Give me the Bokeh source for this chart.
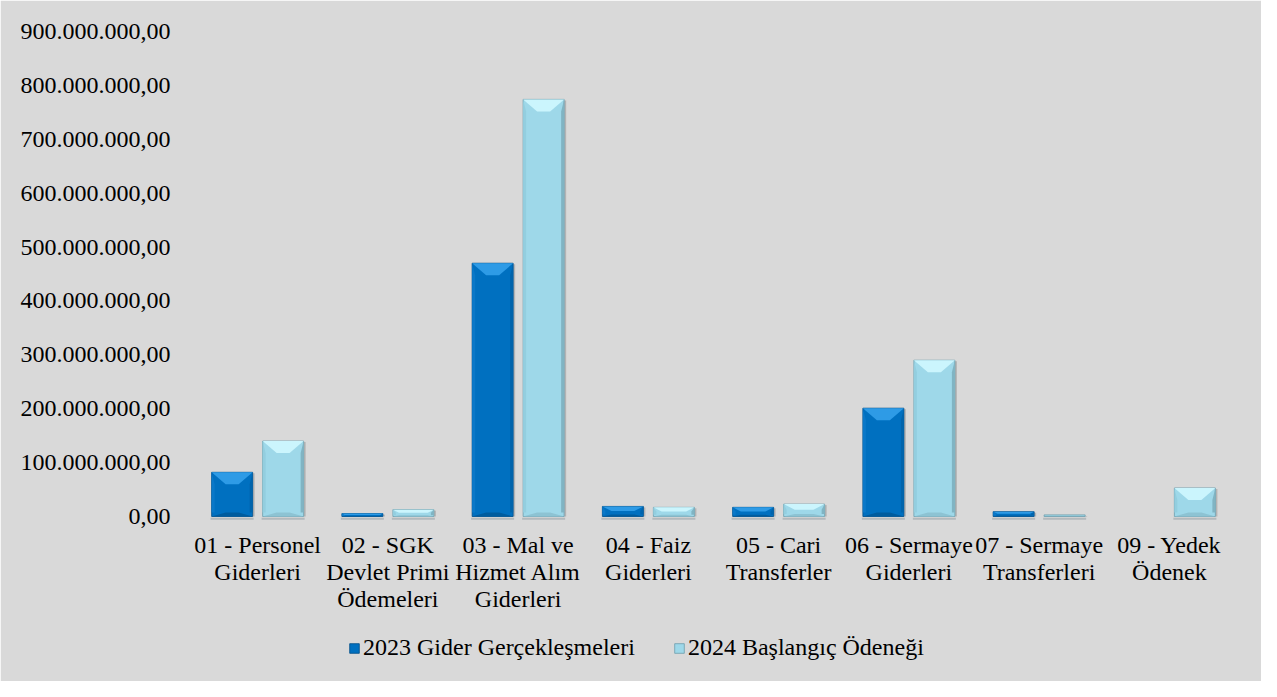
from bokeh.plotting import figure
from bokeh.models import Range1d, FixedTicker, Legend, LegendItem, ColumnDataSource
from bokeh.core.properties import value
from bokeh.embed import file_html
from bokeh.resources import INLINE

# ---- data ----
categories = [
    "01 - Personel\nGiderleri",
    "02 - SGK\nDevlet Primi\nÖdemeleri",
    "03 - Mal ve\nHizmet Alım\nGiderleri",
    "04 - Faiz\nGiderleri",
    "05 - Cari\nTransferler",
    "06 - Sermaye\nGiderleri",
    "07 - Sermaye\nTransferleri",
    "09 - Yedek\nÖdenek",
]
gider_2023 = [82e6, 5.4e6, 470e6, 18.7e6, 17e6, 201e6, 9e6, 0]
odenek_2024 = [140e6, 12.7e6, 774e6, 17e6, 23e6, 290e6, 3e6, 53e6]
series_names = ["2023 Gider Gerçekleşmeleri", "2024 Başlangıç Ödeneği"]
y_ticks = [0, 100e6, 200e6, 300e6, 400e6, 500e6, 600e6, 700e6, 800e6, 900e6]
y_tick_labels = ["0,00", "100.000.000,00", "200.000.000,00", "300.000.000,00",
                 "400.000.000,00", "500.000.000,00", "600.000.000,00",
                 "700.000.000,00", "800.000.000,00", "900.000.000,00"]

FONT = "Liberation Serif"
FS = "24px"
BG = "#D9D9D9"

W, H = 1261, 681
LEFT, RIGHT, TOP = 192, 27, 31
ZERO_PX = 516                    # pixel row of value 0
FRAME_H = H - TOP
FRAME_W = W - LEFT - RIGHT
n = len(categories)
Y1 = 900e6
PX_Y = Y1 / (ZERO_PX - TOP)      # data units per pixel (y)
Y0 = Y1 - FRAME_H * PX_Y
PX_X = n / FRAME_W               # data units per pixel (x)

p = figure(width=W, height=H, output_backend="svg", toolbar_location=None,
           x_range=Range1d(0, n), y_range=Range1d(Y0, Y1),
           frame_width=FRAME_W, frame_height=FRAME_H,
           x_axis_location=None,
           min_border_left=LEFT, min_border_right=RIGHT, min_border_top=TOP,
           min_border_bottom=0,
           background_fill_color=BG, border_fill_color=BG,
           outline_line_color=BG, outline_line_width=2)
p.xgrid.visible = False
p.ygrid.visible = False

hw = 41 * PX_X / 2
off = 25.5 * PX_X

styles = [
    dict(base="#0070C0", top="#2E9BE6", bottom="#005C9E", lside="#0A78C8", rside="#0064AC", edge="#004E88"),
    dict(base="#9ED8E9", top="#CBF5FD", bottom="#8DC3D3", lside="#93CEDF", rside="#80B4C3", edge="#6C9DAC"),
]

main_renderers = []
for s, (vals, dx) in enumerate([(gider_2023, -off), (odenek_2024, off)]):
    st = styles[s]
    xc = [i + 0.5 + dx for i in range(n)]
    lefts = [x - hw for x in xc]
    rights = [x + hw for x in xc]
    nz = [k for k, v in enumerate(vals) if v > 0]
    # shadow under bars
    p.quad(left=[lefts[k] - 1 * PX_X for k in nz], right=[rights[k] + 1 * PX_X for k in nz],
           bottom=-3.2 * PX_Y, top=-1.2 * PX_Y, fill_color="#A9B0B4", line_color=None, fill_alpha=0.8)
    # right drop shadow
    p.quad(left=[rights[k] for k in nz], right=[rights[k] + 2 * PX_X for k in nz], bottom=0,
           top=[vals[k] - 1 * PX_Y for k in nz],
           fill_color="#9A9A9A", line_color=None, fill_alpha=0.6)
    r = p.quad(left=[lefts[k] for k in nz], right=[rights[k] for k in nz], bottom=0,
               top=[vals[k] for k in nz],
               fill_color=st["base"], line_color=st["edge"], line_width=0.8)
    main_renderers.append(r)
    txs, tys, bxs, bys, lxs, lys, rxs, rys = [], [], [], [], [], [], [], []
    for l, rr, v in zip(lefts, rights, vals):
        hpx = v / PX_Y
        if hpx < 2:
            continue
        by = min(12.0, hpx * 0.45) * PX_Y
        bx = min(14.0, hpx * 0.9) * PX_X
        bb = min(4.0, hpx * 0.2) * PX_Y
        sx = 3 * PX_X
        txs.append([l, rr, rr - bx, l + bx])
        tys.append([v, v, v - by, v - by])
        bxs.append([l, rr, rr - bx, l + bx])
        bys.append([0, 0, bb, bb])
        lxs.append([l, l + sx, l + sx, l])
        lys.append([bb, bb, v - by, v])
        rxs.append([rr - sx, rr, rr, rr - sx])
        rys.append([bb, bb, v, v - by])
    p.patches(xs=lxs, ys=lys, fill_color=st["lside"], line_color=None)
    p.patches(xs=rxs, ys=rys, fill_color=st["rside"], line_color=None)
    p.patches(xs=bxs, ys=bys, fill_color=st["bottom"], line_color=None)
    p.patches(xs=txs, ys=tys, fill_color=st["top"], line_color=None)

# category labels below the zero line
cat_src = ColumnDataSource(dict(x=[i + 0.5 for i in range(n)],
                                y=[-15 * PX_Y] * n, text=categories))
p.text(x="x", y="y", text="text", source=cat_src, text_align="center",
       text_baseline="top", text_font=value(FONT), text_font_size=FS,
       text_color="#000000", text_line_height=1.05)

# y axis
p.yaxis.ticker = FixedTicker(ticks=y_ticks)
p.yaxis.major_label_overrides = {t: lab for t, lab in zip(y_ticks, y_tick_labels)}
ax = p.yaxis[0]
ax.axis_line_color = None
ax.major_tick_line_color = None
ax.minor_tick_line_color = None
ax.major_label_text_font = FONT
ax.major_label_text_font_size = FS
ax.major_label_text_color = "#000000"
ax.major_label_standoff = 16

legend = Legend(items=[LegendItem(label=series_names[0], renderers=[main_renderers[0]]),
                       LegendItem(label=series_names[1], renderers=[main_renderers[1]])],
                orientation="horizontal", location=(156, 20),
                label_text_font=FONT, label_text_font_size=FS, label_text_color="#000000",
                glyph_width=12, glyph_height=12, label_standoff=3, spacing=38,
                background_fill_alpha=0, border_line_color=None, margin=0, padding=0)
p.add_layout(legend, "center")

open("out.html", "w").write(file_html(p, INLINE))
